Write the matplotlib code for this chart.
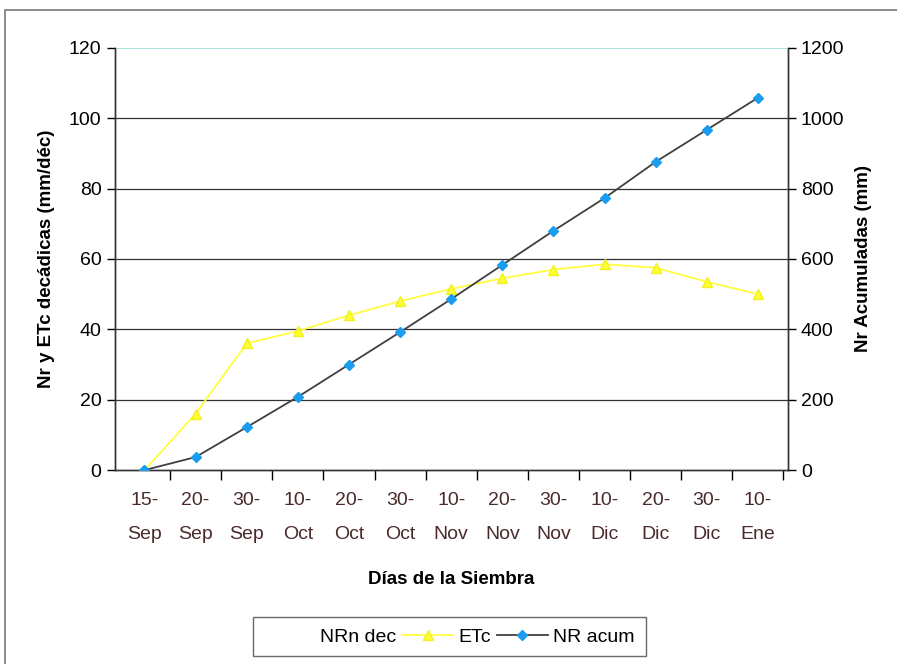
import matplotlib.pyplot as plt
from matplotlib.lines import Line2D
from matplotlib.patches import Rectangle
import numpy as np

plt.rcParams['font.family'] = ['Liberation Sans', 'DejaVu Sans']

# Decadal dates after sowing
fechas = ['15-\nSep', '20-\nSep', '30-\nSep', '10-\nOct', '20-\nOct', '30-\nOct',
          '10-\nNov', '20-\nNov', '30-\nNov', '10-\nDic', '20-\nDic', '30-\nDic', '10-\nEne']

# ETc per decade (mm/déc), left axis
etc = [0, 16, 36, 39.5, 44, 48, 51.5, 54.5, 57, 58.5, 57.5, 53.5, 50]

# Accumulated net requirement (mm), right axis
nr_acum = [0, 37, 122, 208, 300, 392, 486, 583, 680, 773, 876, 967, 1058]

x = np.arange(len(fechas))

fig = plt.figure(figsize=(8.97, 6.64), dpi=100)
ax = fig.add_axes([0.128, 0.292, 0.75, 0.636])
ax2 = ax.twinx()

# grid lines
for v in [20, 40, 60, 80, 100]:
    ax.axhline(v, color='#333333', lw=0.9, zorder=0)
ax.axhline(120, color='#9fe0dc', lw=1.2, zorder=0)

ax.plot(x, etc, color='#ffff40', lw=1.3, marker='^', ms=7,
        markerfacecolor='#ffff30', markeredgecolor='#f0f020', zorder=3)
ax2.plot(x, nr_acum, color='#404040', lw=1.3, marker='D', ms=5.5,
         markerfacecolor='#1a9cf0', markeredgecolor='#1a9cf0', zorder=3)

ax.set_xlim(-0.58, len(fechas) - 0.42)
ax.set_ylim(0, 120)
ax2.set_ylim(0, 1200)
ax.set_yticks(np.arange(0, 121, 20))
ax2.set_yticks(np.arange(0, 1201, 200))

# category labels centred, tick marks on the boundaries
ax.set_xticks(x)
ax.set_xticklabels(fechas, fontsize=14, color='#4a2a2a', linespacing=2.3)
ax.tick_params(axis='x', length=0, pad=16)
ax.set_xticks(np.arange(-0.5, len(fechas), 1)[1:], minor=True)
ax.tick_params(axis='x', which='minor', length=7, width=1, direction='out')

ax.tick_params(axis='y', labelsize=14, length=6, width=1, direction='out')
ax2.tick_params(axis='y', labelsize=14, length=6, width=1, direction='out')

for a in (ax, ax2):
    a.spines['top'].set_visible(False)
    for s in ('left', 'right', 'bottom'):
        a.spines[s].set_color('#333333')
        a.spines[s].set_linewidth(1.0)

ax.set_ylabel('Nr y ETc decádicas (mm/déc)', fontsize=13.5, fontweight='bold', labelpad=10)
ax2.set_ylabel('Nr Acumuladas (mm)', fontsize=13.5, fontweight='bold', labelpad=8)
ax.set_xlabel('Días de la Siembra', fontsize=13.5, fontweight='bold', labelpad=20)

handles = [
    Line2D([], [], color='white', lw=1.3),
    Line2D([], [], color='#ffff40', lw=1.3, marker='^', ms=7,
           markerfacecolor='#ffff30', markeredgecolor='#f0f020'),
    Line2D([], [], color='#404040', lw=1.3, marker='D', ms=5.5,
           markerfacecolor='#1a9cf0', markeredgecolor='#1a9cf0'),
]
leg = fig.legend(handles, ['NRn dec', 'ETc', 'NR acum'], loc='center',
                 bbox_to_anchor=(0.501, 0.041), ncol=3, fontsize=14,
                 frameon=True, fancybox=False, handlelength=2.6,
                 handletextpad=0.3, columnspacing=0.3, borderpad=0.55)
leg.get_frame().set_edgecolor('#444444')
leg.get_frame().set_linewidth(1.0)

# outer chart border
fig.patches.append(Rectangle((5 / 897, -0.1), 1.1, 1 - 10 / 664 + 0.1,
                             transform=fig.transFigure, fill=False,
                             edgecolor='#777777', lw=1.2))

fig.savefig('out.png', dpi=100)
